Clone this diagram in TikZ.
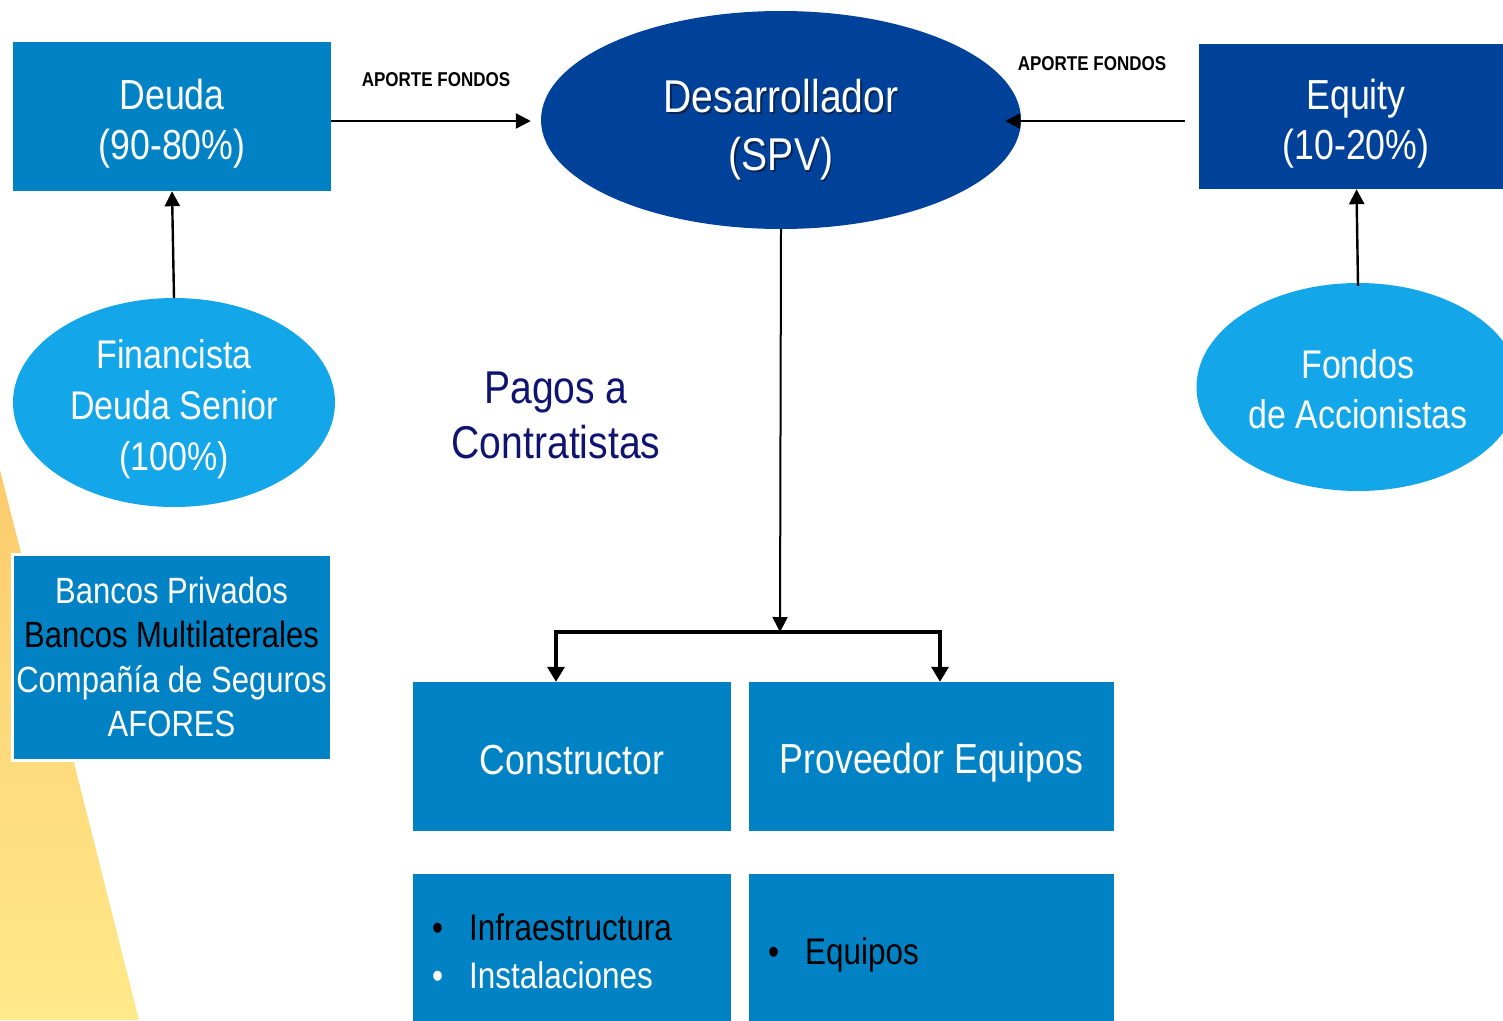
\documentclass[tikz,border=0pt]{standalone}
\usepackage{fontspec}
\setmainfont{Liberation Sans}[FakeStretch=0.85]
\usetikzlibrary{shapes.geometric,arrows.meta}
\definecolor{midblue}{HTML}{0082C4}
\definecolor{darkblue}{HTML}{00419A}
\definecolor{lightblue}{HTML}{13A6E9}
\definecolor{navytext}{HTML}{0F1470}
\definecolor{wedgetop}{HTML}{FCCB6C}
\definecolor{wedgebot}{HTML}{FFE98A}
\definecolor{shadowcol}{HTML}{0A1E40}
\tikzset{
  boxmid/.style={rectangle, fill=midblue, inner sep=0pt, text=white, align=center},
  boxdark/.style={rectangle, fill=darkblue, inner sep=0pt, text=white, align=center},
  ovallight/.style={ellipse, fill=lightblue, inner sep=0pt, text=white, align=center},
  ovaldark/.style={ellipse, fill=darkblue, inner sep=0pt, text=white, align=center},
  txt/.style={align=center, inner sep=0pt},
  arr/.style={draw=black, line width=2.4pt, -{Triangle[length=15pt,width=15pt]}},
  treeline/.style={draw=black, line width=3.4pt},
  treearr/.style={draw=black, line width=3.4pt, -{Triangle[length=15pt,width=17pt]}},
  lbl/.style={font=\bfseries\fontsize{20}{24}\selectfont, text=black, inner sep=0pt},
  big/.style={font=\fontsize{42}{50}\selectfont},
}
\begin{document}
\begin{tikzpicture}[x=1pt,y=-1pt]
\useasboundingbox (0,0) rectangle (1503,1020);
\clip (0,0) rectangle (1503,1020);
% background wedge
\shade[top color=wedgetop, bottom color=wedgebot] (0,470) -- (139,1020) -- (0,1020) -- cycle;

% nodes
\node[boxmid, minimum width=318pt, minimum height=149pt] (deuda) at (172,116.5) {};
\node[txt, text=white, big] (deudatext) at (172,124) {Deuda\\(90-80\%)};
\node[ovallight, minimum width=322pt, minimum height=209pt] (fin) at (174,402.5) {};
\node[txt, text=white, font=\fontsize{40}{51}\selectfont] (fintext) at (174,409.5)
  {Financista\\Deuda Senior\\(100\%)};
\node[boxmid, draw=white, line width=3pt, minimum width=319pt, minimum height=206pt, font=\fontsize{36.5}{44.5}\selectfont] (bancos) at (171.5,657)
  {\vphantom{g}Bancos Privados\\\textcolor{black}{Bancos Multilaterales}\\Compañía de Seguros\\AFORES};
\node[ovaldark, minimum width=480pt, minimum height=218pt] (spv) at (781,120) {};
\node[txt, text=shadowcol, opacity=0.8, font=\fontsize{46}{58}\selectfont] (spvshadow) at (782.5,131.5)
  {Desarrollador\\(SPV)};
\node[txt, text=white, font=\fontsize{46}{58}\selectfont] (spvtext) at (781,130)
  {Desarrollador\\(SPV)};
\node[boxdark, minimum width=321pt, minimum height=145pt] (equity) at (1359.5,116.5) {};
\node[txt, text=white, big] (equitytext) at (1356,124) {Equity\\(10-20\%)};
\node[ovallight, minimum width=323pt, minimum height=208pt] (fondos) at (1358,387) {};
\node[txt, text=white, font=\fontsize{40}{50}\selectfont] (fondostext) at (1358,389) {Fondos\\de Accionistas};

\node[lbl] (lbl1) at (436,80) {APORTE FONDOS};
\node[lbl] (lbl2) at (1092,64) {APORTE FONDOS};

\node[txt, text=navytext, font=\fontsize{46}{55}\selectfont] (pagos) at (556,415)
  {Pagos a\\Contratistas};

\node[boxmid, minimum width=318pt, minimum height=149pt] (constructor) at (572,756.5) {};
\node[txt, text=white, big] (constructortext) at (572,760.5) {Constructor};
\node[boxmid, minimum width=365pt, minimum height=149pt] (proveedor) at (931.5,756.5) {};
\node[txt, text=white, big] (proveedortext) at (931.5,762.5) {Proveedor Equipos};
\node[boxmid, minimum width=318pt, minimum height=160pt] (infra) at (572,954) {};
\node[boxmid, minimum width=365pt, minimum height=160pt] (equipos) at (931.5,954) {};

\node[anchor=west, inner sep=0pt, align=left, font=\fontsize{37}{48}\selectfont] (infratext) at (432,951)
  {\textcolor{black}{•\hspace{26pt}Infraestructura}\\\textcolor{white}{•\hspace{26pt}Instalaciones}};
\node[anchor=west, inner sep=0pt, text=black, font=\fontsize{37}{48}\selectfont] (equipostext) at (768,955)
  {•\hspace{26pt}Equipos};

% connectors
\draw[arr] (fin.north) -- (deuda.south);
\draw[arr] ([yshift=-3pt]fondos.north) -- ([xshift=-3pt]equity.south);
\draw[arr] ([yshift=-4.5pt]deuda.east) -- ([xshift=-10pt,yshift=-1pt]spv.west);
\draw[arr] ([xshift=-14pt,yshift=-4.5pt]equity.west) -- ([xshift=-16pt,yshift=-1pt]spv.east);

\coordinate (split) at (780,632);
\coordinate (cl) at (556,632);
\coordinate (cr) at (940,632);
\draw[arr, line width=2pt] (spv.south) -- (split);
\draw[treeline, line cap=rect] (cl) -- (cr);
\draw[treearr] (cl) -- (cl |- constructor.north);
\draw[treearr] (cr) -- (cr |- proveedor.north);
\end{tikzpicture}
\end{document}
